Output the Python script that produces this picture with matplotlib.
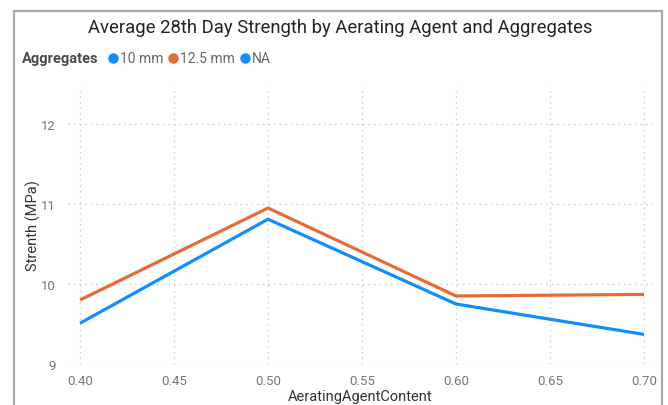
import matplotlib
matplotlib.use("Agg")
import matplotlib.pyplot as plt
from matplotlib.lines import Line2D
from matplotlib.patches import Rectangle

# data
aerating_content = [0.40, 0.50, 0.60, 0.70]
strength_10mm = [9.51, 10.81, 9.75, 9.37]
strength_12_5mm = [9.80, 10.95, 9.85, 9.87]
legend_labels = ["10 mm", "12.5 mm", "NA"]
legend_colors = ["#118DFF", "#E66C37", "#118DFF"]
x_ticks = [0.40, 0.45, 0.50, 0.55, 0.60, 0.65, 0.70]
y_ticks = [9, 10, 11, 12]

plt.rcParams["font.family"] = ["Roboto", "DejaVu Sans"]

W, H = 668, 406
fig = plt.figure(figsize=(W / 100, H / 100), dpi=100)
fig.patch.set_facecolor("white")

# visual border (screenshot frame)
fig.add_artist(Rectangle((14 / W, -0.1), (662 - 14) / W, 1.1 - 12 / H,
                         transform=fig.transFigure, fill=False,
                         edgecolor="#A8A8A8", lw=1.6))

ax = fig.add_axes([68 / W, 1 - 365 / H, (653 - 68) / W, (365 - 87) / H])

ax.plot(aerating_content, strength_10mm, color=legend_colors[0], lw=2.3,
        solid_capstyle="butt", zorder=3)
ax.plot(aerating_content, strength_12_5mm, color=legend_colors[1], lw=2.3,
        solid_capstyle="butt", zorder=3)

ax.set_xlim(0.3936, 0.7048)
ax.set_ylim(9, 12.475)
ax.set_xticks(x_ticks)
ax.set_xticklabels([f"{v:.2f}" for v in x_ticks])
ax.set_yticks(y_ticks)
ax.grid(True, color="#C8C8C8", linestyle=(0, (1, 3)), lw=1)
for s in ax.spines.values():
    s.set_visible(False)
ax.tick_params(length=0, labelsize=9.5, colors="#777777", pad=7)
ax.tick_params(axis="y", pad=9)

ax.set_xlabel("AeratingAgentContent", fontsize=10.5, color="#333333", labelpad=2)
ax.set_ylabel("Strenth (MPa)", fontsize=10.5, color="#333333", labelpad=0)

fig.text(340 / W, 1 - 28 / H, "Average 28th Day Strength by Aerating Agent and Aggregates",
         ha="center", va="center", fontsize=13.3, color="#252423")

# legend row
fig.canvas.draw()
r = fig.canvas.get_renderer()
y_leg = 1 - 59 / H
x = 22
t = fig.text(x / W, y_leg, "Aggregates", ha="left", va="center", fontsize=10.5,
             fontweight="bold", color="#4A4A4A")
x += t.get_window_extent(r).width + 10
for lab, col in zip(legend_labels, legend_colors):
    fig.add_artist(Line2D([(x + 4) / W], [y_leg], marker="o", markersize=6.5,
                          color=col, transform=fig.transFigure))
    x += 11
    t = fig.text(x / W, y_leg, lab, ha="left", va="center", fontsize=10,
                 color="#666666")
    x += t.get_window_extent(r).width + 6

fig.savefig("out.png", dpi=100)
